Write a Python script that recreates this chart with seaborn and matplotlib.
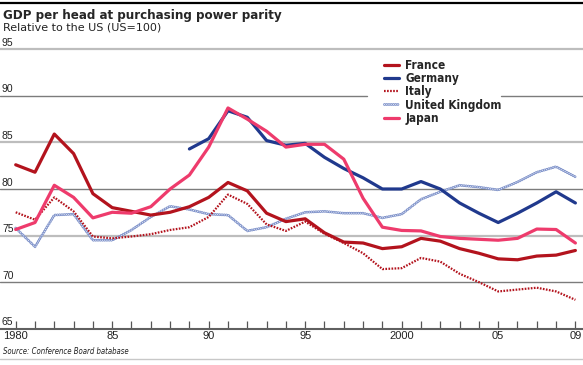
import numpy as np
import pandas as pd
import matplotlib
matplotlib.use("Agg")
import matplotlib.pyplot as plt
import matplotlib.transforms as mtransforms
from matplotlib.lines import Line2D
from matplotlib.legend_handler import HandlerTuple
import seaborn as sns

# data (relative to the US, US=100)
years = list(range(1980, 2010))
france = [82.6, 81.8, 85.9, 83.8, 79.5, 78.0, 77.6, 77.2, 77.5, 78.1,
          79.1, 80.7, 79.8, 77.4, 76.5, 76.8, 75.3, 74.3, 74.2, 73.6,
          73.8, 74.7, 74.4, 73.6, 73.1, 72.5, 72.4, 72.8, 72.9, 73.4]
germany_years = list(range(1989, 2010))
germany = [84.3, 85.4, 88.4, 87.7, 85.2, 84.7, 84.9, 83.4, 82.2, 81.2,
           80.0, 80.0, 80.8, 80.0, 78.5, 77.4, 76.4, 77.4, 78.5, 79.7, 78.5]
italy = [77.5, 76.7, 79.1, 77.6, 74.9, 74.7, 74.9, 75.15, 75.6, 75.9,
         77.0, 79.4, 78.4, 76.2, 75.5, 76.5, 75.2, 74.2, 73.1, 71.4,
         71.5, 72.6, 72.2, 70.9, 70.0, 69.0, 69.2, 69.4, 69.0, 68.1]
uk = [75.8, 73.8, 77.2, 77.3, 74.5, 74.5, 75.6, 77.0, 78.15, 77.8,
      77.3, 77.2, 75.5, 75.9, 76.8, 77.5, 77.6, 77.4, 77.4, 76.9,
      77.3, 78.9, 79.7, 80.4, 80.2, 79.9, 80.75, 81.8, 82.4, 81.3]
japan = [75.65, 76.4, 80.4, 79.1, 76.9, 77.5, 77.4, 78.1, 80.0, 81.5,
         84.5, 88.7, 87.5, 86.2, 84.5, 84.8, 84.8, 83.2, 79.0, 75.9,
         75.55, 75.5, 74.9, 74.7, 74.6, 74.5, 74.7, 75.7, 75.65, 74.2]
labels = ["France", "Germany", "Italy", "United Kingdom", "Japan"]
year_labels = {1980: "1980", 1985: "85", 1990: "90", 1995: "95",
               2000: "2000", 2005: "05", 2009: "09"}
grid_vals = [70, 75, 80, 85, 90, 95]

df = pd.DataFrame({"year": years, "France": france, "Italy": italy,
                   "United Kingdom": uk, "Japan": japan})
de = pd.DataFrame({"year": germany_years, "Germany": germany})

sns.set_style("white")
plt.rcParams["font.family"] = ["DejaVu Sans"]
plt.rcParams["lines.scale_dashes"] = False

W, H = 583, 365
fig = plt.figure(figsize=(W / 100, H / 100), dpi=100)
x0_px, px_year = 15.7, 19.3
y_top, y_bot = 49.3, 328.7
ax = fig.add_axes([0, (H - y_bot) / H, 1, (y_bot - y_top) / H])
xmin = 1980 - x0_px / px_year
ax.set_xlim(xmin, xmin + W / px_year)
ax.set_ylim(65, 95)

# gridlines, 90 line broken where the legend sits
for v in grid_vals:
    light = v % 10 == 5
    col = "#bdbdbd" if light else "#7c7c7c"
    lw = 1.6 if light else 1.0
    if v == 90:
        ax.axhline(v, 0, 367 / W, color=col, lw=lw, zorder=1)
        ax.axhline(v, 501 / W, 1, color=col, lw=lw, zorder=1)
    else:
        ax.axhline(v, color=col, lw=lw, zorder=1, clip_on=False)

red, blue, pink, ukblue = "#b3131d", "#20398d", "#ee3b6c", "#8396cc"

sns.lineplot(data=df, x="year", y="United Kingdom", ax=ax, color=ukblue, lw=2.1,
             linestyle=(0, (0.01, 1.6)), dash_capstyle="round", zorder=3)
uk_a = ax.lines[-1]
sns.lineplot(data=df, x="year", y="United Kingdom", ax=ax, color="white", lw=0.75,
             linestyle=(0, (0.01, 1.6)), dash_capstyle="round", zorder=3)
uk_b = ax.lines[-1]
sns.lineplot(data=df, x="year", y="Italy", ax=ax, color=red, lw=1.6,
             linestyle=(0, (1.2, 1.0)), zorder=4)
it_l = ax.lines[-1]
sns.lineplot(data=df, x="year", y="France", ax=ax, color=red, lw=2.3, zorder=5)
fr_l = ax.lines[-1]
sns.lineplot(data=de, x="year", y="Germany", ax=ax, color=blue, lw=2.3, zorder=5)
de_l = ax.lines[-1]
sns.lineplot(data=df, x="year", y="Japan", ax=ax, color=pink, lw=2.3, zorder=6)
jp_l = ax.lines[-1]

for s in ["left", "right", "top"]:
    ax.spines[s].set_visible(False)
ax.spines["bottom"].set_color("#606060")
ax.spines["bottom"].set_linewidth(1.5)
ax.set_xlabel("")
ax.set_ylabel("")
ax.set_yticks([])
ax.set_xticks(years)
ax.set_xticklabels([year_labels.get(y, "") for y in years])
ax.tick_params(axis="x", bottom=True, direction="in", length=6, width=0.9,
               color="#555555", pad=1.5, labelcolor="#222222")
for t in ax.get_xticklabels():
    t.set_fontfamily(["Liberation Sans", "DejaVu Sans"])
    t.set_fontsize(8)

trans = ax.get_yaxis_transform() + mtransforms.ScaledTranslation(2 / 100, 3.5 / 100, fig.dpi_scale_trans)
for v in [65] + grid_vals:
    ax.text(0, v, str(v), transform=trans, ha="left", va="baseline",
            fontsize=7.5, color="#222222", family=["Liberation Sans", "DejaVu Sans"])

leg = ax.legend([fr_l, de_l, it_l, (uk_a, uk_b), jp_l], labels,
                handler_map={tuple: HandlerTuple(ndivide=1)},
                loc="upper left", bbox_to_anchor=(378 / W, 1 - 53 / H),
                bbox_transform=fig.transFigure, frameon=False, borderpad=0,
                handlelength=1.3, handletextpad=0.5, labelspacing=0.02,
                prop={"family": "DejaVu Sans", "stretch": "condensed",
                      "weight": "bold", "size": 8.5})

fig.text(3 / W, 1 - 19.5 / H, "GDP per head at purchasing power parity",
         fontsize=9.5, fontweight="bold", fontstretch="condensed", va="baseline")
fig.text(3 / W, 1 - 30.8 / H, "Relative to the US (US=100)",
         fontsize=8, va="baseline", color="#222222")
fig.text(3 / W, 1 - 354.5 / H, "Source: Conference Board batabase",
         fontsize=5.6, style="italic", fontstretch="condensed", va="baseline",
         color="#222222")

fig.add_artist(Line2D([0, 1], [1 - 2.5 / H] * 2, transform=fig.transFigure,
                      color="black", lw=1.6))
fig.add_artist(Line2D([0, 1], [1 - 359 / H] * 2, transform=fig.transFigure,
                      color="#c8c8c8", lw=1.0))

fig.savefig("out.png", dpi=100)
